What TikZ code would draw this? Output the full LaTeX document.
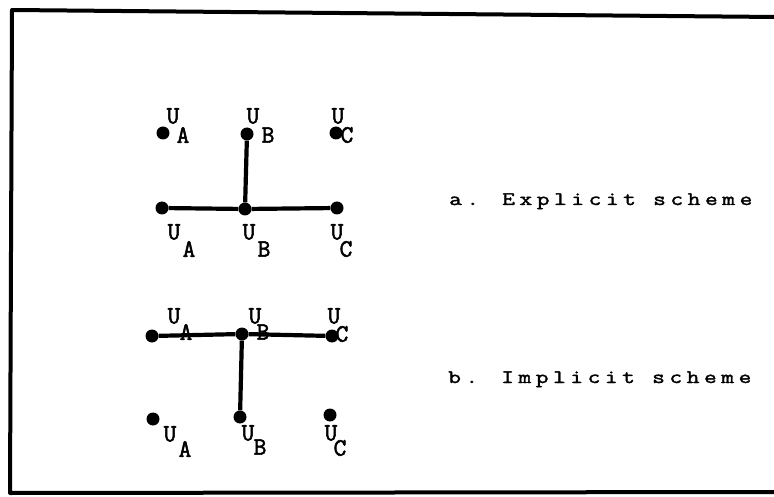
\documentclass[tikz,border=0pt]{standalone}
\usepackage{fontspec}
\newfontfamily\tw[FakeBold=2]{Latin Modern Mono}
\newfontfamily\capfont[LetterSpace=24,FakeStretch=1.3,FakeBold=2]{Latin Modern Mono}
\tikzset{
  dot/.style={circle,fill=black,inner sep=0pt,minimum size=13pt},
  conn/.style={line width=4.2pt},
  frame/.style={line width=4pt,line join=round},
  lbl/.style={inner sep=0pt,font=\tw\fontsize{25}{25}\selectfont},
  captext/.style={inner sep=0pt,anchor=base west,font=\capfont\fontsize{19}{21}\selectfont}
}
\begin{document}
\begin{tikzpicture}[x=1pt,y=-1pt]
\useasboundingbox (0,0) rectangle (774,497);
% frame
\draw[frame] (776,17) -- (12,10) -- (10,493) -- (776,492);

% ---- (a) explicit scheme ----
\node[dot] (a1) at (163,133) {};
\node[dot] (b1) at (247,134) {};
\node[dot] (c1) at (336,133) {};
\node[dot] (a2) at (162,208) {};
\node[dot] (b2) at (245,209) {};
\node[dot] (c2) at (337,208) {};
\draw[conn] (b1) -- (b2);
\draw[conn] (a2) -- (b2);
\draw[conn] (b2) -- (c2);
% labels top row
\node[lbl] (ua1) at (173,116) {U}; \node[lbl] (sa1) at (183,135) {A};
\node[lbl] (ub1) at (253,116) {U}; \node[lbl] (sb1) at (268,135) {B};
\node[lbl] (uc1) at (338,116) {U}; \node[lbl] (sc1) at (347,135) {C};
% labels bottom row
\node[lbl] (ua2) at (174,232) {U}; \node[lbl] (sa2) at (189,249) {A};
\node[lbl] (ub2) at (249,232) {U}; \node[lbl] (sb2) at (264,249) {B};
\node[lbl] (uc2) at (337,232) {U}; \node[lbl] (sc2) at (346,249) {C};
\node[captext] (capa) at (449,205) {a. Explicit scheme};

% ---- (b) implicit scheme ----
\node[dot] (a3) at (152,336) {};
\node[dot] (b3) at (242,334) {};
\node[dot] (c3) at (332,336) {};
\node[dot] (a4) at (153,419) {};
\node[dot] (b4) at (240,417) {};
\node[dot] (c4) at (330,415) {};
\draw[conn] (a3) -- (b3);
\draw[conn] (b3) -- (c3);
\draw[conn] (b3) -- (b4);
% labels top row
\node[lbl] (ua3) at (174,316) {U}; \node[lbl] (sa3) at (186,332) {A};
\node[lbl] (ub3) at (255,316) {U}; \node[lbl] (sb3) at (263,332) {B};
\node[lbl] (uc3) at (334,316) {U}; \node[lbl] (sc3) at (342,334) {C};
% labels bottom row
\node[lbl] (ua4) at (170,434) {U}; \node[lbl] (sa4) at (185,449) {A};
\node[lbl] (ub4) at (248,433) {U}; \node[lbl] (sb4) at (260,447) {B};
\node[lbl] (uc4) at (331,433) {U}; \node[lbl] (sc4) at (340,448) {C};
\node[captext] (capb) at (448,383) {b. Implicit scheme};
\end{tikzpicture}
\end{document}
